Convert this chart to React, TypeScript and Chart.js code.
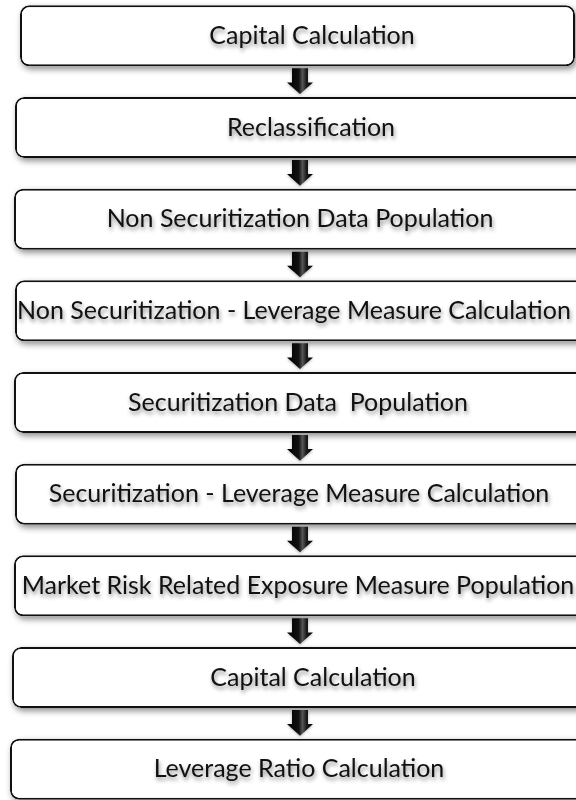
import React, { useEffect, useRef } from "react";
import { Chart, registerables } from "chart.js";

Chart.register(...registerables);

const steps = [
  "Capital Calculation",
  "Reclassification",
  "Non Securitization Data Population",
  "Non Securitization - Leverage Measure Calculation",
  "Securitization Data  Population",
  "Securitization - Leverage Measure Calculation",
  "Market Risk Related Exposure Measure Population",
  "Capital Calculation",
  "Leverage Ratio Calculation",
];
const boxStart = [20, 15, 14, 15, 14, 15, 14, 12, 10];
const boxEnd = [575, 607, 600, 600, 600, 600, 600, 614, 600];
const labelCenter = [312, 311, 300, 294, 298, 299, 298, 313, 299];
const arrowCenter = [300, 300, 300, 300, 300, 300, 300, 300];

export default function App() {
  const ref = useRef<HTMLCanvasElement | null>(null);
  useEffect(() => {
    if (!ref.current) return;
    const shadowPlugin = {
      id: "boxShadow",
      beforeDatasetsDraw(chart: any) {
        const ctx = chart.ctx;
        const meta = chart.getDatasetMeta(0);
        ctx.save();
        meta.data.forEach((bar: any) => {
          const p = bar.getProps(["x", "y", "base", "height"], true);
          const left = Math.min(p.x, p.base);
          const right = Math.max(p.x, p.base);
          const top = p.y - p.height / 2;
          ctx.shadowColor = "rgba(0,0,0,0.45)";
          ctx.shadowBlur = 6;
          ctx.shadowOffsetX = 2;
          ctx.shadowOffsetY = 3;
          ctx.fillStyle = "#ffffff";
          ctx.beginPath();
          (ctx as any).roundRect(left, top, right - left, p.height, 9);
          ctx.fill();
        });
        ctx.restore();
      },
      afterDatasetsDraw(chart: any) {
        const ctx = chart.ctx;
        const meta = chart.getDatasetMeta(0);
        const xs = chart.scales.x;
        ctx.save();
        ctx.font = "25px Lato";
        ctx.textAlign = "center";
        ctx.textBaseline = "middle";
        ctx.fillStyle = "#111111";
        ctx.shadowColor = "rgba(0,0,0,0.45)";
        ctx.shadowBlur = 4;
        ctx.shadowOffsetX = 1;
        ctx.shadowOffsetY = 3;
        meta.data.forEach((bar: any, i: number) => {
          const p = bar.getProps(["y"], true);
          ctx.fillText(steps[i], xs.getPixelForValue(labelCenter[i]), p.y);
        });
        ctx.restore();
        ctx.save();
        for (let i = 0; i < arrowCenter.length; i++) {
          const a = meta.data[i].getProps(["y", "height"], true);
          const b = meta.data[i + 1].getProps(["y", "height"], true);
          const y0 = a.y + a.height / 2 + 2;
          const y1 = b.y - b.height / 2 - 3;
          const cx = xs.getPixelForValue(arrowCenter[i]);
          const gap = y1 - y0;
          const headY = y0 + gap * 0.55;
          const sw = 8;
          const hw = 13;
          const g = ctx.createLinearGradient(cx - hw, 0, cx + hw, 0);
          g.addColorStop(0, "#000000");
          g.addColorStop(0.45, "#111111");
          g.addColorStop(0.6, "#555555");
          g.addColorStop(0.75, "#1a1a1a");
          g.addColorStop(1, "#000000");
          ctx.fillStyle = g;
          ctx.shadowColor = "rgba(0,0,0,0.3)";
          ctx.shadowBlur = 3;
          ctx.shadowOffsetY = 1;
          ctx.beginPath();
          ctx.moveTo(cx - sw, y0);
          ctx.lineTo(cx + sw, y0);
          ctx.lineTo(cx + sw, headY);
          ctx.lineTo(cx + hw, headY);
          ctx.lineTo(cx, y1);
          ctx.lineTo(cx - hw, headY);
          ctx.lineTo(cx - sw, headY);
          ctx.closePath();
          ctx.fill();
        }
        ctx.restore();
      },
    };
    const chart = new Chart(ref.current, {
      type: "bar",
      data: {
        labels: steps,
        datasets: [
          {
            data: steps.map((_, i) => [boxStart[i], boxEnd[i]]) as any,
            backgroundColor: "#ffffff",
            borderColor: "#111111",
            borderWidth: 2,
            borderRadius: 9,
            borderSkipped: false,
            categoryPercentage: 1,
            barPercentage: 0.665,
          },
        ],
      },
      options: {
        indexAxis: "y",
        animation: false,
        responsive: false,
        maintainAspectRatio: false,
        layout: { padding: 0 },
        plugins: { legend: { display: false }, tooltip: { enabled: false } },
        scales: {
          x: { type: "linear", min: 0, max: 576, display: false },
          y: { type: "category", display: false, offset: true },
        },
      },
      plugins: [shadowPlugin],
    });
    return () => chart.destroy();
  }, []);
  return (
    <div style={{ position: "fixed", left: 0, top: -10, width: 576, height: 825, background: "#fff" }}>
      <canvas ref={ref} width={576} height={825} style={{ width: 576, height: 825, display: "block" }} />
    </div>
  );
}
